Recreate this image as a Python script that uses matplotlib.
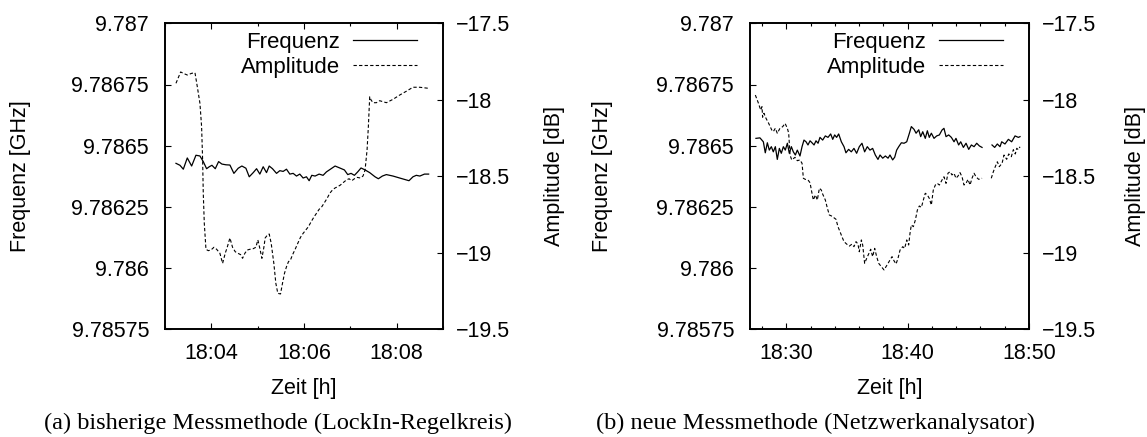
import numpy as np
import matplotlib
matplotlib.use("Agg")
import matplotlib.pyplot as plt
from matplotlib.ticker import MultipleLocator, FixedLocator

# ---------------- data (time in minutes after 18:00) ----------------
a_freq_t = [3.237, 3.323, 3.395, 3.481, 3.575, 3.668, 3.754, 3.826, 3.898, 3.955,
            4.013, 4.085, 4.157, 4.228, 4.315, 4.401, 4.487, 4.580, 4.659, 4.746,
            4.818, 4.904, 4.976, 5.047, 5.119, 5.191, 5.249, 5.320, 5.407, 5.478,
            5.550, 5.622, 5.694, 5.766, 5.838, 5.909, 5.981, 6.053, 6.111, 6.168,
            6.240, 6.326, 6.412, 6.484, 6.570, 6.671, 6.772, 6.872, 6.944, 7.016,
            7.088, 7.159, 7.231, 7.318, 7.418, 7.533, 7.605, 7.691, 7.777, 7.921,
            8.065, 8.266, 8.352, 8.424, 8.50, 8.60, 8.69]
a_freq = [9.786428, 9.786420, 9.786404, 9.786450, 9.786417, 9.786461, 9.786458, 9.786435, 9.786406, 9.786414,
          9.786420, 9.786406, 9.786435, 9.786425, 9.786422, 9.786421, 9.786387, 9.786408, 9.786417, 9.786408,
          9.786373, 9.786390, 9.786406, 9.786384, 9.786414, 9.786390, 9.786417, 9.786406, 9.786387, 9.786398,
          9.786395, 9.786404, 9.786384, 9.786387, 9.786376, 9.786384, 9.786368, 9.786373, 9.786357, 9.786379,
          9.786376, 9.786384, 9.786379, 9.786393, 9.786404, 9.786417, 9.786409, 9.786401, 9.786382, 9.786387,
          9.786379, 9.786393, 9.786409, 9.786401, 9.786390, 9.786373, 9.786365, 9.786376, 9.786382, 9.786376,
          9.786368, 9.786357, 9.786373, 9.786379, 9.786376, 9.786384, 9.786384]

a_amp_t = [3.237, 3.338, 3.395, 3.481, 3.575, 3.647, 3.697, 3.754, 3.790, 3.812,
           3.826, 3.848, 3.884, 3.934, 3.991, 4.056, 4.114, 4.185, 4.243, 4.300,
           4.343, 4.401, 4.458, 4.516, 4.573, 4.631, 4.674, 4.724, 4.774, 4.832,
           4.904, 4.961, 5.004, 5.047, 5.091, 5.134, 5.162, 5.205, 5.249, 5.292,
           5.349, 5.392, 5.435, 5.493, 5.536, 5.579, 5.622, 5.665, 5.708, 5.751,
           5.809, 5.866, 5.924, 5.981, 6.039, 6.096, 6.154, 6.211, 6.269, 6.326,
           6.384, 6.441, 6.499, 6.556, 6.613, 6.671, 6.728, 6.786, 6.843, 6.915,
           6.973, 7.030, 7.088, 7.145, 7.217, 7.274, 7.318, 7.361, 7.389, 7.418,
           7.447, 7.490, 7.562, 7.634, 7.778, 7.920, 8.065, 8.209, 8.351, 8.496,
           8.690]
a_amp = [-17.892, -17.818, -17.827, -17.838, -17.827, -17.823, -17.914, -18.023, -18.176, -18.393,
         -18.611, -18.807, -18.977, -18.986, -18.982, -18.964, -18.977, -19.003, -19.069, -19.003,
         -18.964, -18.903, -18.964, -18.993, -19.003, -19.012, -19.036, -19.003, -18.982, -18.977,
         -18.973, -18.964, -18.916, -18.971, -19.036, -18.964, -18.903, -18.886, -18.877, -18.938,
         -19.069, -19.199, -19.265, -19.269, -19.199, -19.134, -19.091, -19.058, -19.047, -19.014,
         -18.977, -18.938, -18.899, -18.873, -18.851, -18.829, -18.797, -18.768, -18.742, -18.716,
         -18.699, -18.672, -18.644, -18.611, -18.590, -18.576, -18.568, -18.557, -18.542, -18.524,
         -18.516, -18.529, -18.516, -18.507, -18.511, -18.498, -18.459, -18.328, -18.176, -17.980,
         -18.001, -18.019, -18.019, -18.006, -18.019, -17.997, -17.969, -17.944, -17.918, -17.918,
         -17.925]

b_freq_t = [27.49, 27.82, 28.10, 28.26, 28.43, 28.59, 28.76, 28.92, 29.09, 29.25,
            29.42, 29.58, 29.75, 29.91, 30.08, 30.24, 30.41, 30.57, 30.74, 30.90,
            31.12, 31.29, 31.45, 31.62, 31.78, 31.95, 32.11, 32.28, 32.44, 32.61,
            32.77, 32.99, 33.21, 33.43, 33.65, 33.82, 33.98, 34.14, 34.31, 34.53,
            34.75, 34.91, 35.13, 35.35, 35.57, 35.79, 36.01, 36.23, 36.45, 36.67,
            36.89, 37.11, 37.33, 37.55, 37.72, 37.94, 38.16, 38.38, 38.54, 38.76,
            38.93, 39.09, 39.26, 39.48, 39.70, 39.92, 40.14, 40.30, 40.52, 40.69,
            40.91, 41.07, 41.24, 41.45, 41.62, 41.78, 41.95, 42.17, 42.39, 42.61,
            42.83, 42.99, 43.16, 43.38, 43.60, 43.82, 43.98, 44.20, 44.37, 44.59,
            44.81, 45.03, 45.25, 45.47, 45.69, 45.91, 46.13, np.nan, 46.95, 47.17,
            47.39, 47.61, 47.75, 48.02, 48.30, 48.57, 48.85, 49.12, 49.26]
b_freq = [9.786530, 9.786532, 9.786516, 9.786471, 9.786512, 9.786482, 9.786496, 9.786475, 9.786496, 9.786444,
          9.786489, 9.786469, 9.786496, 9.786482, 9.786510, 9.786469, 9.786496, 9.786475, 9.786462, 9.786482,
          9.786458, 9.786496, 9.786523, 9.786516, 9.786503, 9.786520, 9.786512, 9.786503, 9.786520, 9.786510,
          9.786534, 9.786523, 9.786540, 9.786534, 9.786548, 9.786526, 9.786544, 9.786534, 9.786548, 9.786516,
          9.786496, 9.786471, 9.786485, 9.786475, 9.786489, 9.786469, 9.786496, 9.786510, 9.786475, 9.786496,
          9.786482, 9.786489, 9.786462, 9.786444, 9.786462, 9.786449, 9.786458, 9.786449, 9.786462, 9.786442,
          9.786453, 9.786482, 9.786496, 9.786512, 9.786510, 9.786516, 9.786551, 9.786578, 9.786567, 9.786551,
          9.786565, 9.786537, 9.786557, 9.786530, 9.786561, 9.786534, 9.786551, 9.786530, 9.786540, 9.786544,
          9.786564, 9.786571, 9.786537, 9.786544, 9.786534, 9.786516, 9.786530, 9.786503, 9.786516, 9.786493,
          9.786510, 9.786485, 9.786503, 9.786496, 9.786510, 9.786499, 9.786493, np.nan, 9.786503, 9.786493,
          9.786507, 9.786496, 9.786516, 9.786507, 9.786526, 9.786516, 9.786540, 9.786534, 9.786537]

b_amp_t = [27.44, 27.68, 27.88, 27.99, 28.04, 28.15, 28.32, 28.54, 28.79, 28.92,
           29.09, 29.25, 29.47, 29.69, 29.89, 30.08, 30.19, 30.30, 30.44, 30.71,
           30.90, 31.12, 31.29, 31.40, 31.56, 31.78, 31.95, 32.06, 32.22, 32.39,
           32.55, 32.72, 32.88, 32.99, 33.21, 33.38, 33.54, 33.71, 33.87, 34.09,
           34.25, 34.42, 34.58, 34.75, 34.97, 35.19, 35.41, 35.57, 35.74, 35.90,
           36.01, 36.18, 36.29, 36.45, 36.62, 36.78, 36.95, 37.11, 37.28, 37.44,
           37.61, 37.83, 38.05, 38.21, 38.38, 38.54, 38.71, 38.87, 39.04, 39.20,
           39.37, 39.59, 39.75, 39.92, 40.08, 40.19, 40.30, 40.47, 40.63, 40.80,
           40.96, 41.13, 41.29, 41.45, 41.62, 41.78, 41.95, 42.11, 42.28, 42.44,
           42.61, 42.83, 42.99, 43.16, 43.32, 43.49, 43.65, 43.82, 43.98, 44.15,
           44.31, 44.48, 44.64, 44.81, 44.97, 45.14, 45.30, 45.47, 45.63, 45.85,
           46.13, np.nan, 46.89, 47.06, 47.22, 47.39, 47.55, 47.78, 47.94, 48.16,
           48.33, 48.54, 48.71, 48.87, 48.99, 49.12, 49.26]
b_amp = [-17.969, -18.019, -18.067, -18.045, -18.114, -18.088, -18.121, -18.154, -18.197, -18.208,
         -18.186, -18.219, -18.186, -18.176, -18.154, -18.186, -18.219, -18.361, -18.393, -18.376,
         -18.398, -18.393, -18.415, -18.513, -18.520, -18.524, -18.542, -18.590, -18.655, -18.622,
         -18.655, -18.578, -18.590, -18.616, -18.655, -18.709, -18.753, -18.759, -18.768, -18.781,
         -18.829, -18.862, -18.895, -18.927, -18.943, -18.956, -18.943, -18.960, -18.927, -18.943,
         -18.993, -18.916, -18.949, -19.069, -19.036, -19.008, -18.977, -19.025, -18.971, -19.025,
         -19.069, -19.091, -19.112, -19.091, -19.069, -19.047, -19.025, -19.052, -19.073, -19.036,
         -18.982, -18.960, -18.971, -18.916, -18.949, -18.873, -18.818, -18.829, -18.786, -18.720,
         -18.694, -18.703, -18.655, -18.611, -18.622, -18.644, -18.688, -18.590, -18.557, -18.546,
         -18.557, -18.524, -18.503, -18.546, -18.480, -18.470, -18.491, -18.480, -18.513, -18.498,
         -18.476, -18.503, -18.557, -18.546, -18.520, -18.557, -18.513, -18.480, -18.503, -18.520,
         -18.513, np.nan, -18.513, -18.470, -18.437, -18.405, -18.437, -18.415, -18.361, -18.389,
         -18.354, -18.372, -18.326, -18.354, -18.317, -18.326, -18.307]

freq_ticks = [9.78575, 9.786, 9.78625, 9.7865, 9.78675, 9.787]
freq_ticklabels = ["9.78575", "9.786", "9.78625", "9.7865", "9.78675", "9.787"]
amp_ticks = [-19.5, -19.0, -18.5, -18.0, -17.5]
amp_ticklabels = ["\u221219.5", "\u221219", "\u221218.5", "\u221218", "\u221217.5"]

a_xlim = [3, 9]
a_xticks = [4, 6, 8]
a_xticklabels = ["18:04", "18:06", "18:08"]
b_xlim = [27, 50]
b_xticks = [30, 40, 50]
b_xticklabels = ["18:30", "18:40", "18:50"]

series_labels = ["Frequenz", "Amplitude"]
xlabel = "Zeit [h]"
ylabel_left = "Frequenz [GHz]"
ylabel_right = "Amplitude [dB]"
captions = ["(a) bisherige Messmethode (LockIn-Regelkreis)",
            "(b) neue Messmethode (Netzwerkanalysator)"]

# ---------------- drawing ----------------
plt.rcParams['font.family'] = ['Liberation Sans', 'DejaVu Sans']
FS = 15.5
LFS = 16
W, H = 1147, 437
fig = plt.figure(figsize=(W / 100, H / 100), dpi=100)

def px_rect(x0, x1, y_top, y_bot):
    return [x0 / W, 1 - y_bot / H, (x1 - x0) / W, (y_bot - y_top) / H]

panels = [
    dict(rect=px_rect(165, 443, 23.3, 329.3), ft=a_freq_t, f=a_freq, at=a_amp_t, a=a_amp,
         xlim=a_xlim, xt=a_xticks, xtl=a_xticklabels, minor=1, cap_x=278,
         yl_left=-0.519, yl_right=1.40),
    dict(rect=px_rect(750, 1029, 23.3, 329.3), ft=b_freq_t, f=b_freq, at=b_amp_t, a=b_amp,
         xlim=b_xlim, xt=b_xticks, xtl=b_xticklabels, minor=2, cap_x=815,
         yl_left=-0.53, yl_right=1.38),
]

for i, p in enumerate(panels):
    ax = fig.add_axes(p["rect"])
    ax2 = ax.twinx()
    l1, = ax.plot(p["ft"], p["f"], color="black", lw=0.9, label=series_labels[0])
    l2, = ax2.plot(p["at"], p["a"], color="black", lw=0.8, linestyle=(0, (3, 2)),
                   label=series_labels[1])
    ax.set_xlim(*p["xlim"])
    ax.set_ylim(freq_ticks[0], freq_ticks[-1])
    ax2.set_ylim(amp_ticks[0], amp_ticks[-1])

    ax.xaxis.set_major_locator(FixedLocator(p["xt"]))
    ax.set_xticklabels(p["xtl"])
    ax.xaxis.set_minor_locator(MultipleLocator(p["minor"]))
    ax.set_yticks(freq_ticks)
    ax.set_yticklabels(freq_ticklabels)
    ax2.set_yticks(amp_ticks)
    ax2.set_yticklabels(amp_ticklabels)

    ax.tick_params(axis="x", which="both", direction="in", top=True, bottom=True,
                   labelsize=FS, pad=10, width=0.8)
    ax.tick_params(axis="x", which="major", length=4.5)
    ax.tick_params(axis="x", which="minor", length=2.2)
    ax.tick_params(axis="y", which="both", direction="in", left=True, right=False,
                   labelsize=FS, length=4.5, width=0.8, pad=11.5)
    ax2.tick_params(axis="y", which="both", direction="in", right=True, left=False,
                    labelsize=FS, length=4.5, width=0.8, pad=9)
    for sp in list(ax.spines.values()) + list(ax2.spines.values()):
        sp.set_linewidth(1.2)

    ax.set_xlabel(xlabel, fontsize=FS)
    ax.xaxis.set_label_coords(0.5, -0.192)
    ax.xaxis.label.set_verticalalignment("center")

    ax.set_ylabel(ylabel_left, fontsize=FS)
    ax.yaxis.set_label_coords(p["yl_left"], 0.5)
    ax.yaxis.label.set_verticalalignment("center")
    ax2.set_ylabel(ylabel_right, fontsize=FS)
    ax2.yaxis.set_label_coords(p["yl_right"], 0.5)
    ax2.yaxis.label.set_verticalalignment("center")

    leg = ax2.legend(handles=[l1, l2], loc="upper right",
                     frameon=False, markerfirst=False, fontsize=LFS,
                     handlelength=2.9, handletextpad=0.58, borderaxespad=0,
                     borderpad=0.35, labelspacing=0.17)
    leg.set_bbox_to_anchor((1 - 18 / 278, 1 - 1 / 306), transform=ax.transAxes)

    fig.text(p["cap_x"] / W, 1 - 423 / H, captions[i], ha="center", va="center",
             fontsize=17.5, family=["Liberation Serif", "DejaVu Serif"])

fig.savefig("out.png", dpi=100)
